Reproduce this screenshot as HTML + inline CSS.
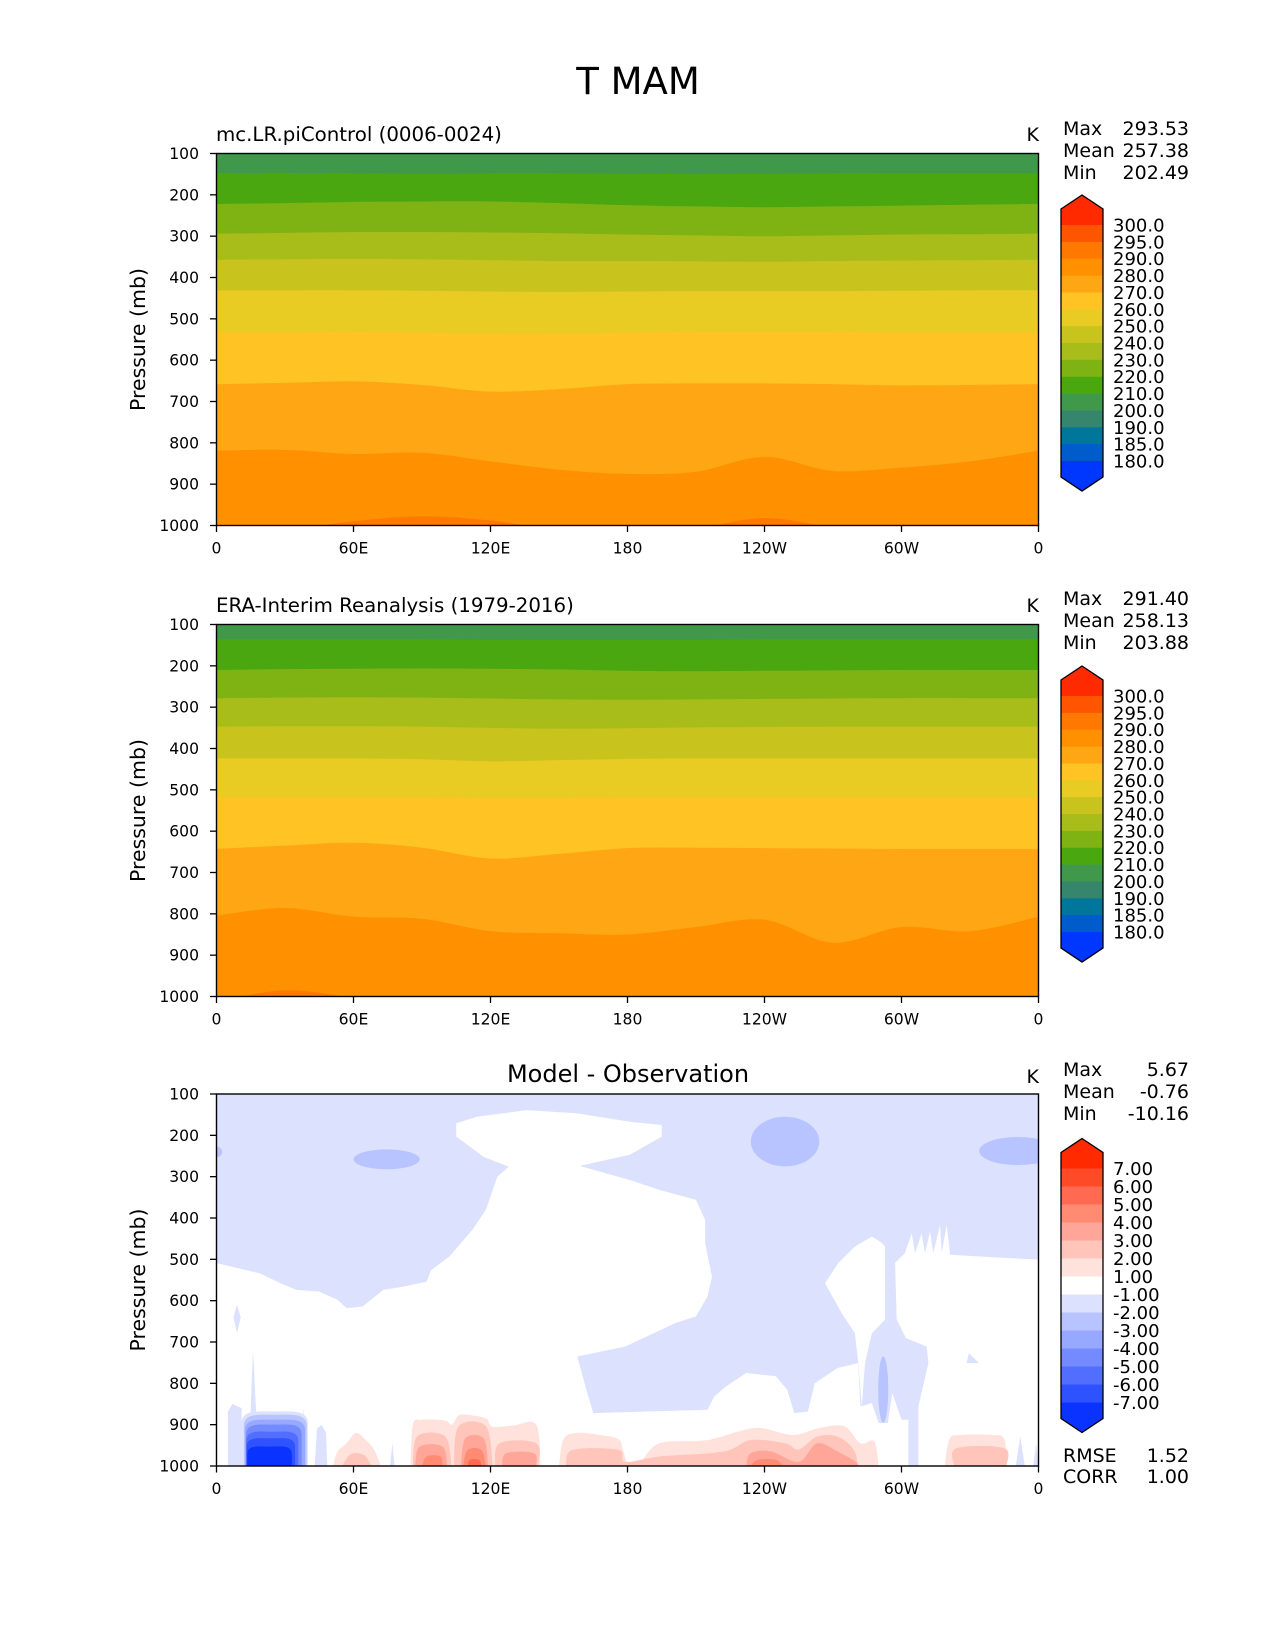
<!DOCTYPE html>
<html><head><meta charset="utf-8"><title>T MAM</title>
<style>
html,body{margin:0;padding:0;background:#fff;}
svg{display:block;font-family:"DejaVu Sans","Liberation Sans",sans-serif;}
</style></head>
<body>
<svg id="fig" xmlns="http://www.w3.org/2000/svg" width="1275" height="1650" viewBox="0 0 1275 1650">
<rect width="1275" height="1650" fill="#fff"/>
<text x="638" y="94" font-size="37" text-anchor="middle">T MAM</text>

<text x="216" y="141" font-size="19.8">mc.LR.piControl (0006-0024)</text>
<text x="1039" y="141" font-size="19" text-anchor="end">K</text>
<g font-size="19">
<text x="1063" y="135">Max</text><text x="1189" y="135" text-anchor="end">293.53</text>
<text x="1063" y="157">Mean</text><text x="1189" y="157" text-anchor="end">257.38</text>
<text x="1063" y="179">Min</text><text x="1189" y="179" text-anchor="end">202.49</text>
</g>

<text x="216" y="612" font-size="19.8">ERA-Interim Reanalysis (1979-2016)</text>
<text x="1039" y="612" font-size="19" text-anchor="end">K</text>
<g font-size="19">
<text x="1063" y="605">Max</text><text x="1189" y="605" text-anchor="end">291.40</text>
<text x="1063" y="627">Mean</text><text x="1189" y="627" text-anchor="end">258.13</text>
<text x="1063" y="649">Min</text><text x="1189" y="649" text-anchor="end">203.88</text>
</g>

<text x="628" y="1082" font-size="24" text-anchor="middle">Model - Observation</text>
<text x="1039" y="1083" font-size="19" text-anchor="end">K</text>
<g font-size="19">
<text x="1063" y="1076">Max</text><text x="1189" y="1076" text-anchor="end">5.67</text>
<text x="1063" y="1098">Mean</text><text x="1189" y="1098" text-anchor="end">-0.76</text>
<text x="1063" y="1120">Min</text><text x="1189" y="1120" text-anchor="end">-10.16</text>
<text x="1063" y="1462">RMSE</text><text x="1189" y="1462" text-anchor="end">1.52</text>
<text x="1063" y="1483">CORR</text><text x="1189" y="1483" text-anchor="end">1.00</text>
</g>
<g id="layer"></g>
</svg>
<script>
// ---------- data ----------
const lons = [0,30,60,90,120,150,180,210,240,270,300,330,360];
const pTicks = [100,200,300,400,500,600,700,800,900,1000];
const lonTicks = [0,60,120,180,240,300,360];
const lonTickLabels = ['0','60E','120E','180','120W','60W','0'];

const levelLabels = ['300.0','295.0','290.0','280.0','270.0','260.0','250.0','240.0','230.0','220.0','210.0','200.0','190.0','185.0','180.0'];
const levelColors = ['#FF2A00','#FF5500','#FF7800','#FF9000','#FFA614','#FFC323','#E8CB23','#C8C41D','#A8BC1A','#7FB213','#4AA710','#40984A','#35866C','#00769A','#005CCB','#0037FF'];

// contour boundaries (pressure, mb) at each lon, panel 1 (model)
const m210 = [148,147,148,149,148,148,149,150,149,148,148,148,148];
const m220 = [222,220,217,216,216,220,225,228,230,228,226,224,222];
const m230 = [294,292,290,290,291,293,296,298,300,298,296,295,294];
const m240 = [357,356,355,356,358,360,360,361,362,360,359,358,357];
const m250 = [431,431,431,432,434,435,434,433,433,433,432,431,431];
const m260 = [533,533,532,533,535,535,533,532,532,532,533,533,533];
const m270 = [658,655,651,660,676,670,658,656,656,658,661,660,658];
const m280 = [819,817,827,824,845,865,875,870,834,868,860,845,819];
const m290 = [1012,1010,990,978,988,1010,1012,1006,982,1004,1012,1012,1012];
// panel 2 (obs)
const o210 = [136,136,136,136,137,137,137,137,136,136,136,136,136];
const o220 = [210,208,207,206,207,209,212,213,212,211,210,210,210];
const o230 = [278,277,276,277,279,281,282,281,280,279,278,278,278];
const o240 = [347,346,346,347,350,352,351,349,348,347,347,347,347];
const o250 = [424,424,424,426,431,428,425,424,424,424,424,424,424];
const o260 = [518,518,518,518,519,519,518,518,518,518,518,518,518];
const o270 = [643,635,628,640,666,655,641,640,641,642,643,643,643];
const o280 = [804,786,807,812,842,847,850,832,814,870,832,842,807];
const o290 = [1012,985,1002,1012,1012,1012,1012,1012,1012,1012,1012,1012,1012];

// difference field regions (lon, p)
const diffLabels = ['7.00','6.00','5.00','4.00','3.00','2.00','1.00','-1.00','-2.00','-3.00','-4.00','-5.00','-6.00','-7.00'];
const diffColors = ['#FF2A00','#FF4A28','#FF6A50','#FF8B73','#FFA699','#FFC4BA','#FFE2DC','#FFFFFF','#DCE2FE','#B8C4FF','#96A8FF','#738BFF','#526EFF','#2F52FF','#0A33FF'];
const white1 = [[0,509],[19,534],[28,558],[35,574],[45,578],[53,598],[57,618],[64,614],[73,574],[82,566],[92,554],[94,526],[102,493],[112,429],[118,380],[123,300],[128,276],[117,252],[105,203],[105,171],[114,155],[136,139],[158,147],[181,167],[195,175],[195,203],[181,247],[159,274],[181,308],[194,332],[210,356],[214,405],[214,461],[217,542],[215,590],[210,638],[201,654],[179,711],[158,735],[162,816],[165,872],[215,864],[218,832],[223,808],[232,775],[245,783],[250,816],[253,872],[259,868],[262,800],[272,763],[281,751],[282,856],[287,848],[290,1010],[0,1010]];
const white2 = [[266.5,558],[272.3,509],[279.6,469],[287,445],[290.6,457],[292.8,469],[292.8,646],[287,679],[284,751],[282.6,856],[281.1,751],[279.6,679],[273.8,630]];
const white3 = [[297.2,509],[301.5,485],[304.5,437],[305.9,485],[308.8,437],[310.3,485],[312.5,433],[313.9,485],[316.9,417],[317.6,485],[319.8,417],[321.3,489],[340,495],[361,501],[361,1010],[307.4,1010],[307.4,856],[311.8,751],[311,711],[302,691],[297.9,646]];
const white4 = [[281,864],[287,848],[290,896],[294,896],[296,824],[300,888],[303,888],[303,1010],[281,1010]];
const lightStreaks = [
 [[7.4,640],[9,610],[10.6,640],[9,679]],
 [[14.7,896],[16,720],[17.6,896]],
 [[36.6,1000],[38,860],[39.5,1000]],
 [[43,1000],[44,910],[46,900],[48,920],[48.5,1000]],
 [[76,1000],[77,945],[78,1000]],
 [[328.5,751],[329.5,727],[334,751]],
 [[350,1000],[352,929],[354,1000]],
 [[357.7,1000],[359,945],[360,1000]],
 [[5,868],[7,850],[11,860],[11,1000],[5,1000]]
];
// medium blue blobs: [lonCenter, pCenter, lonRadius, pRadius]
const mediumBlobs = [[74.5,258,14.5,24],[0,240,2.5,13],[249,215,15,60],[351,238,17,34],[292,815,2.2,80]];
const pink1 = [
 [[51,1000],[53,965],[57,945],[61,920],[65,935],[69,960],[72,1000]],
 [[85,1000],[86,900],[90,888],[100,890],[103,900],[106,878],[110,876],[118,885],[121,905],[130,902],[140,900],[142,1000]],
 [[150,1000],[152,935],[158,920],[168,925],[176,935],[178,960],[180,990],[185,995],[194,945],[215,937],[236,908],[252,925],[264,908],[275,904],[282,945],[288,940],[290,1000]],
 [[319,1000],[321,935],[326,925],[340,925],[345,935],[346,1000]]
];
const pink2 = [
 [[55,1000],[58,975],[61,969],[65,975],[68,1000]],
 [[86,1000],[88,928],[100,928],[103,1000]],
 [[104,1000],[106,904],[118,904],[121,1000]],
 [[122,1000],[124,945],[140,945],[141,1000]],
 [[153,1000],[156,961],[176,961],[179,990],[194,977],[222,965],[234,937],[249,945],[255,960],[263,929],[272,929],[279,960],[281,1000]],
 [[323,1000],[324,957],[345,957],[346,1000]]
];
const pink3 = [
 [[87,1000],[89,953],[99,953],[101,1000]],
 [[107,1000],[109,933],[117,933],[119,1000]],
 [[125,1000],[127,969],[139,969],[140,1000]],
 [[232,1000],[234,969],[243,965],[255,990],[263,945],[272,965],[280,990],[281,1000]]
];
const pink4 = [
 [[90,1000],[92,977],[98,977],[99,1000]],
 [[108,1000],[110,961],[116,961],[118,1000]],
 [[234,1000],[237,985],[245,985],[248,1000]]
];
const pink5 = [[[110,1000],[111,985],[115,985],[116,1000]]];
// cold blob layers near 25E: top pressure, left lon, right lon
const blobTop = [868,876,888,900,917,933,953];
const blobLeft = [11,12,12.5,13,13,13.2,13.5];
const blobRight = [40,39.5,38.8,37.3,35.8,34.4,33];

// ---------- drawing ----------
const NS = 'http://www.w3.org/2000/svg';
const layer = document.getElementById('layer');
function mk(tag, parent){ const e = document.createElementNS(NS, tag); (parent||layer).appendChild(e); return e; }

const X0 = 216.5, W = 822, H = 372;
function makeAxes(y0){
  return { x: lon => X0 + lon/360*W, y: p => y0 + (p-100)/900*H };
}
function smoothPath(pts){
  let d = 'M'+pts[0][0]+','+pts[0][1];
  for(let i=0;i<pts.length-1;i++){
    const p0 = pts[Math.max(i-1,0)], p1 = pts[i], p2 = pts[i+1], p3 = pts[Math.min(i+2,pts.length-1)];
    const c1 = [p1[0]+(p2[0]-p0[0])/6, p1[1]+(p2[1]-p0[1])/6];
    const c2 = [p2[0]-(p3[0]-p1[0])/6, p2[1]-(p3[1]-p1[1])/6];
    d += ' C'+c1[0]+','+c1[1]+' '+c2[0]+','+c2[1]+' '+p2[0]+','+p2[1];
  }
  return d;
}
function polyPath(pts, ax){ return 'M'+pts.map(q=>ax.x(q[0])+','+ax.y(q[1])).join(' L')+' Z'; }

function clipFor(id, y0){
  let defs = document.getElementById('defs');
  if(!defs){ defs = mk('defs'); defs.id='defs'; }
  const cp = mk('clipPath', defs); cp.id = id;
  const r = mk('rect', cp);
  r.setAttribute('x', X0); r.setAttribute('y', y0); r.setAttribute('width', W); r.setAttribute('height', H);
}

function frame(y0, n){
  const ax = makeAxes(y0);
  const g = mk('g');
  
  
  const r = mk('rect', g);
  r.setAttribute('x', X0); r.setAttribute('y', y0); r.setAttribute('width', W); r.setAttribute('height', H);
  r.setAttribute('fill','none'); r.setAttribute('stroke','#000'); r.setAttribute('stroke-width','1.4');
  
  
  pTicks.forEach(p=>{
    const yy = ax.y(p);
    const l = mk('line', g);
    l.setAttribute('x1', X0-6.5); l.setAttribute('x2', X0); l.setAttribute('y1', yy); l.setAttribute('y2', yy);
    l.setAttribute('stroke','#000'); l.setAttribute('stroke-width','1.3');
    
    
    const t = mk('text', g);
    t.setAttribute('x', 199); t.setAttribute('y', yy+5.5); t.setAttribute('font-size','15.6'); t.setAttribute('text-anchor','end');
    t.textContent = p;
    
    
  });
  lonTicks.forEach((lo,i)=>{
    const xx = ax.x(lo);
    const l = mk('line', g);
    l.setAttribute('x1', xx); l.setAttribute('x2', xx); l.setAttribute('y1', y0+H); l.setAttribute('y2', y0+H+6.5);
    l.setAttribute('stroke','#000'); l.setAttribute('stroke-width','1.3');
    
    
    const t = mk('text', g);
    t.setAttribute('x', xx); t.setAttribute('y', y0+H+28); t.setAttribute('font-size','15.6'); t.setAttribute('text-anchor','middle');
    t.textContent = lonTickLabels[i];
    
    
  });
  const yl = mk('text', g);
  const cy = y0+H/2;
  yl.setAttribute('x', 138); yl.setAttribute('y', cy); yl.setAttribute('font-size','20.5'); yl.setAttribute('text-anchor','middle');
  yl.setAttribute('dominant-baseline','central');
  yl.setAttribute('transform','rotate(-90 138 '+cy+')');
  yl.textContent = 'Pressure (mb)';
  
  
}

function fieldPanel(y0, n, bounds, baseColor, colorsBelow){
  const ax = makeAxes(y0);
  clipFor('clip'+n, y0);
  const g = mk('g');
  g.setAttribute('clip-path','url(#clip'+n+')');
  
  
  const bg = mk('rect', g);
  bg.setAttribute('x', X0); bg.setAttribute('y', y0); bg.setAttribute('width', W); bg.setAttribute('height', H);
  bg.setAttribute('fill', baseColor);
  
  
  bounds.forEach((b,k)=>{
    const pts = lons.map((lo,i)=>[ax.x(lo), ax.y(b[i])]);
    const d = smoothPath(pts)+' L'+ax.x(360)+','+(y0+H+5)+' L'+ax.x(0)+','+(y0+H+5)+' Z';
    const path = mk('path', g);
    path.setAttribute('d', d); path.setAttribute('fill', colorsBelow[k]);
    
    
  });
}

function colorbar(b0, step, nInt, colors, labels, n){
  const g = mk('g');
  
  
  const L = 1061, R = 1103, C = 1082, ext = 16, tip = 14;
  const top = b0-ext, bot = b0+nInt*step+ext;
  colors.forEach((c,i)=>{
    const p = mk('path', g);
    let d;
    if(i===0) d = 'M'+L+','+b0+' L'+L+','+top+' L'+C+','+(top-tip)+' L'+R+','+top+' L'+R+','+b0+' Z';
    else if(i===colors.length-1){ const yb=b0+nInt*step; d = 'M'+L+','+yb+' L'+L+','+bot+' L'+C+','+(bot+tip)+' L'+R+','+bot+' L'+R+','+yb+' Z'; }
    else d = 'M'+L+','+(b0+(i-1)*step)+' L'+R+','+(b0+(i-1)*step)+' L'+R+','+(b0+i*step+0.5)+' L'+L+','+(b0+i*step+0.5)+' Z';
    p.setAttribute('d', d); p.setAttribute('fill', c);
    
    
  });
  const o = mk('path', g);
  o.setAttribute('d','M'+L+','+top+' L'+C+','+(top-tip)+' L'+R+','+top+' L'+R+','+bot+' L'+C+','+(bot+tip)+' L'+L+','+bot+' Z');
  o.setAttribute('fill','none'); o.setAttribute('stroke','#000'); o.setAttribute('stroke-width','1.3');
  
  
  labels.forEach((s,i)=>{
    const t = mk('text', g);
    t.setAttribute('x', 1113); t.setAttribute('y', b0+i*step+6.5); t.setAttribute('font-size','18');
    t.textContent = s;
    
    
  });
}

// Panel 1 and 2
const bandColorsBelow = ['#4AA710','#7FB213','#A8BC1A','#C8C41D','#E8CB23','#FFC323','#FFA614','#FF9000','#FF7800'];
fieldPanel(153.5, 1, [m210,m220,m230,m240,m250,m260,m270,m280,m290], '#40984A', bandColorsBelow);
frame(153.5, 1);
colorbar(225, 16.86, 14, levelColors, levelLabels, 1);
fieldPanel(624.5, 2, [o210,o220,o230,o240,o250,o260,o270,o280,o290], '#40984A', bandColorsBelow);
frame(624.5, 2);
colorbar(696, 16.86, 14, levelColors, levelLabels, 2);

// Panel 3 difference
(function(){
  const y0 = 1094, ax = makeAxes(y0);
  clipFor('clip3', y0);
  const g = mk('g');
  g.setAttribute('clip-path','url(#clip3)');
  
  
  const bg = mk('rect', g);
  bg.setAttribute('x', X0); bg.setAttribute('y', y0); bg.setAttribute('width', W); bg.setAttribute('height', H);
  bg.setAttribute('fill', diffColors[8]);
  
  
  [white1, white2, white3, white4].forEach(w=>{
    const p = mk('path', g);
    p.setAttribute('d', polyPath(w, ax)); p.setAttribute('fill', '#FFFFFF');
    
    
  });
  lightStreaks.forEach(s=>{
    const p = mk('path', g);
    p.setAttribute('d', polyPath(s, ax)); p.setAttribute('fill', diffColors[8]);
    
    
  });
  mediumBlobs.forEach(b=>{
    const e = mk('ellipse', g);
    e.setAttribute('cx', ax.x(b[0])); e.setAttribute('cy', ax.y(b[1]));
    e.setAttribute('rx', b[2]/360*W); e.setAttribute('ry', b[3]/900*H);
    e.setAttribute('fill', diffColors[9]);
    
    
  });
  [pink1,pink2,pink3,pink4,pink5].forEach((lvl,k)=>{
    lvl.forEach(seg=>{
      const p = mk('path', g);
      const pts = seg.map(q=>[ax.x(q[0]), ax.y(q[1])]);
      p.setAttribute('d', smoothPath(pts)+' Z'); p.setAttribute('fill', diffColors[6-k]);
      
      
    });
  });
  blobTop.forEach((tp,k)=>{
    const l = ax.x(blobLeft[k]), r = ax.x(blobRight[k]), t = ax.y(tp), b = ax.y(1000)+3;
    const c = (l+r)/2, hw = (r-l)/2;
    const p = mk('path', g);
    p.setAttribute('d','M'+l+','+b+' L'+l+','+(t+hw*0.35)+' C'+l+','+(t-2)+' '+(c-hw*0.5)+','+t+' '+c+','+t+' C'+(c+hw*0.5)+','+t+' '+r+','+(t-2)+' '+r+','+(t+hw*0.35)+' L'+r+','+b+' Z');
    p.setAttribute('fill', diffColors[8+k]);
    
    
  });
  frame(y0, 3);
  colorbar(1168.5, 18, 13, diffColors, diffLabels, 3);
})();
</script>
</body></html>
